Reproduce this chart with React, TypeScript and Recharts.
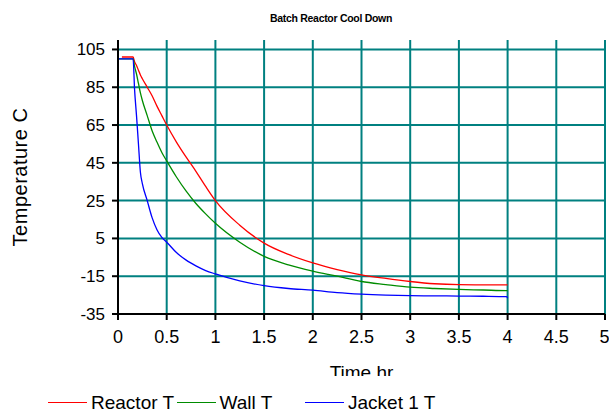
import { CartesianGrid, Line, LineChart, XAxis, YAxis } from 'recharts'

// Time in hours and temperatures in °C.
const time = [0, 0.04, 0.155, 0.17, 0.19, 0.21, 0.23, 0.25, 0.3, 0.35, 0.4, 0.45, 0.5, 0.6, 0.7, 0.8, 0.9, 1.0, 1.25, 1.5, 1.75, 2.0, 2.25, 2.5, 2.75, 3.0, 3.25, 3.5, 3.75, 3.99, 4.0]
const reactorT = [null, 101, 101, 98.5, 96.5, 94, 91.5, 89.5, 85, 80.5, 75, 70, 65, 56, 48, 40.5, 32.5, 25, 12, 2.5, -3.5, -8, -11.5, -14.3, -16.2, -17.8, -19, -19.5, -19.6, -19.6, -19.6]
const wallT = [100, 100, 100, 96, 92, 87, 82, 78, 70, 62, 56, 50.5, 46, 37.5, 30, 23.5, 18, 13, 3, -4.5, -9, -12.3, -15, -17.8, -19.4, -20.8, -21.5, -22, -22.3, -22.6, -22.6]
const jacketT = [100, 100, 100, 84, 70, 55, 40, 34, 25, 16, 9.6, 5.5, 3, -2.5, -6.5, -9.5, -12, -13.8, -17.5, -20, -21.5, -22.4, -23.7, -24.5, -25, -25.3, -25.4, -25.5, -25.6, -25.8, -26.6]

const xTicks = [0, 0.5, 1, 1.5, 2, 2.5, 3, 3.5, 4, 4.5, 5]
const yTicks = [-35, -15, 5, 25, 45, 65, 85, 105]

const SERIES = [
  { key: 'reactor', name: 'Reactor T', color: '#ff0000' },
  { key: 'wall', name: 'Wall T', color: '#008c00' },
  { key: 'jacket', name: 'Jacket 1 T', color: '#0000ff' },
]

const data = time.map((t, i) => ({ time: t, reactor: reactorT[i], wall: wallT[i], jacket: jacketT[i] }))

const FONT = '"Liberation Sans", Arial, sans-serif'
const GRID = '#008080'

function YTitle(props: any) {
  const vb = props.viewBox
  const cy = vb.y + vb.height / 2
  return (
    <text x={27} y={cy} transform={`rotate(-90, 27, ${cy})`} textAnchor="middle" fontSize={20} letterSpacing={0.5} fill="#000" fontFamily={FONT}>
      Temperature C
    </text>
  )
}

// the reference cuts the axis title off just above its baseline
function XTitle(props: any) {
  const vb = props.viewBox
  const cx = vb.x + vb.width / 2
  return (
    <g>
      <defs>
        <clipPath id="xtitle-clip">
          <rect x={0} y={0} width={609} height={376} />
        </clipPath>
      </defs>
      <text x={cx} y={379} textAnchor="middle" fontSize={19} fill="#000" fontFamily={FONT} clipPath="url(#xtitle-clip)">
        Time hr
      </text>
    </g>
  )
}

export default function App() {
  return (
    <div style={{ position: 'absolute', left: 0, top: 0, width: 609, height: 412, background: '#fff', fontFamily: FONT }}>
      <div style={{ position: 'absolute', left: 231, top: 12, width: 200, textAlign: 'center', fontSize: 10.5, fontWeight: 700, lineHeight: '12px', letterSpacing: -0.3 }}>
        Batch Reactor Cool Down
      </div>
      <LineChart width={609} height={412} data={data} margin={{ top: 40, right: 4, left: 0, bottom: 68 }}>
        <CartesianGrid stroke={GRID} strokeWidth={2} horizontalValues={yTicks} verticalValues={xTicks} />
        <XAxis
          type="number"
          dataKey="time"
          domain={[0, 5]}
          ticks={xTicks}
          allowDataOverflow
          height={30}
          tickSize={6}
          tickMargin={10}
          tick={{ fontSize: 18, fill: '#000', fontFamily: FONT }}
          tickLine={{ stroke: '#000', strokeWidth: 2 }}
          axisLine={{ stroke: '#000', strokeWidth: 2 }}
          label={<XTitle />}
        />
        <XAxis xAxisId="top" orientation="top" type="number" domain={[0, 5]} height={0} tick={false} tickLine={false} axisLine={{ stroke: '#000', strokeWidth: 2 }} />
        <YAxis
          domain={[-35, 110]}
          ticks={yTicks}
          allowDataOverflow
          width={118}
          tickSize={6}
          tickMargin={7}
          tick={{ fontSize: 17, fill: '#000', fontFamily: FONT }}
          tickLine={{ stroke: '#000', strokeWidth: 2 }}
          axisLine={{ stroke: '#000', strokeWidth: 2 }}
          label={<YTitle />}
        />
        <YAxis yAxisId="right" orientation="right" domain={[-35, 110]} width={0} tick={false} tickLine={false} axisLine={{ stroke: '#000', strokeWidth: 2 }} />
        {SERIES.map((s) => (
          <Line key={s.key} type="monotone" dataKey={s.key} name={s.name} stroke={s.color} strokeWidth={1.3} dot={false} isAnimationActive={false} />
        ))}
      </LineChart>
      {SERIES.map((s, i) => (
        <div key={s.key} style={{ position: 'absolute', left: 48 + i * 128.5, top: 393, height: 19, display: 'flex', alignItems: 'center' }}>
          <span style={{ display: 'inline-block', width: 39, height: 0, borderTop: `1.5px solid ${s.color}` }} />
          <span style={{ marginLeft: 4, fontSize: 19, lineHeight: '19px', color: '#000' }}>{s.name}</span>
        </div>
      ))}
    </div>
  )
}
